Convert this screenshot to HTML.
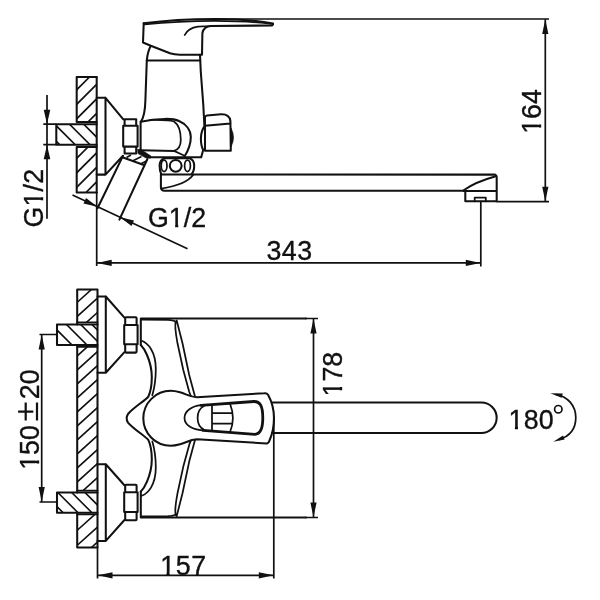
<!DOCTYPE html>
<html>
<head>
<meta charset="utf-8">
<title>Faucet dimensional drawing</title>
<style>
  html, body { margin: 0; padding: 0; background: #ffffff; }
  body { width: 600px; height: 600px; overflow: hidden; }
  svg { display: block; filter: grayscale(1); }
  svg text { font-family: "Liberation Sans", sans-serif; fill: #111; stroke: #111; stroke-width: 0.35; }
  .o { fill: none; stroke: #111; stroke-width: 2.05; stroke-linecap: round; stroke-linejoin: round; }
  .m { fill: none; stroke: #111; stroke-width: 1.75; stroke-linecap: round; stroke-linejoin: round; }
  .t { fill: none; stroke: #111; stroke-width: 1.7; stroke-linecap: butt; }
  .h { fill: none; stroke: #111; stroke-width: 1.6; stroke-linecap: butt; }
  .k { fill: #111; stroke: #111; stroke-width: 0.6; stroke-linejoin: round; }
  .a { fill: #111; stroke: none; }
</style>
</head>
<body>
<svg width="600" height="600" viewBox="0 0 600 600">
<rect x="0" y="0" width="600" height="600" fill="#ffffff"/>
<defs>
  <clipPath id="one"><path d="M-2,-30 H20 V-3.3 H9.4 V1.5 H6.3 V-3.3 H-2 Z"/></clipPath>
  <clipPath id="cw1"><rect x="76.7" y="77" width="20" height="45"/></clipPath>
  <clipPath id="cw2"><rect x="76.7" y="147" width="20" height="45.5"/></clipPath>
  <clipPath id="cp1"><rect x="56.3" y="124.2" width="40.4" height="20.5"/></clipPath>
</defs>

<!-- ================= SIDE ELEVATION (top drawing) ================= -->
<g id="side">
  <!-- wall hatch -->
  <g class="h" clip-path="url(#cw1)">
    <path d="M70,96.5 L100,66.5 M70,111 L100,81 M70,125.5 L100,95.5 M70,140 L100,110"/>
  </g>
  <g class="h" clip-path="url(#cw2)">
    <path d="M70,165 L100,135 M70,179.5 L100,149.5 M70,194 L100,164 M70,208.5 L100,178.5"/>
  </g>
  <g class="h" clip-path="url(#cp1)">
    <path d="M50,135 L65,150 M50,119.5 L80,149.5 M60,114.7 L95,149.7 M75,115.5 L105,145.5"/>
  </g>
  <!-- wall outline -->
  <path class="o" d="M96.7,77 L76.7,77 L76.7,122 L96.7,122 M76.7,147 L76.7,192.5 L96.7,192.5 M76.7,147 L96.7,147"/>
  <path class="o" d="M96.7,77 L96.7,192.5"/>
  <!-- pipe -->
  <path class="o" d="M96.7,124.2 L56.3,124.2 L56.3,144.7 L96.7,144.7"/>
  <!-- flange + cone -->
  <path class="o" d="M96.7,97.8 L105.5,97.8 L105.5,174.6 L96.7,174.6 M105.5,97.8 L123.3,119.3 M105.5,174.6 L123,155.8"/>
  <!-- nut -->
  <path class="o" d="M124.6,119.3 L136.2,119.3 L136.2,125.8 L137.6,125.8 L137.6,146.6 L136.2,146.6 L136.2,153.4 L124.6,153.4 L124.6,146.6 L123.2,146.6 L123.2,125.8 L124.6,125.8 Z M123.2,125.8 L137.6,125.8 M123.2,146.6 L137.6,146.6"/>
  <!-- collar -->
  <path class="o" d="M140.6,122 L140.6,150.5"/>
  <!-- body -->
  <path class="o" d="M150.8,45.8 C148.5,50 147.3,55 146.8,60.5 L145.4,100 C145.2,109 144.3,117 140.8,121.8"/>
  <path class="o" d="M200,54.7 L200.8,72 L203.3,105 L204.4,126 C202,130 200.9,134 200.9,138.5 C200.9,144 201.8,147.5 203.2,150 L201.2,157.2"/>
  <path class="o" d="M146.8,60.4 L200.2,60.4"/>
  <!-- valve cylinder -->
  <path class="o" d="M140.8,121.8 C150,119.6 158,119 165,118.9 C171,118.8 176,119.5 179,121 C186,124 190.8,130 190.8,137 C190.8,145 188,151 184.5,156.5"/>
  <path class="m" d="M150,120 C160,119.8 170,120 174,121.5 C178.5,124.5 180.8,132 180.8,140 C180.8,146 178,149.6 174,150.9 L184,155.5"/>
  <path class="o" d="M140.8,150.3 L174,150.9"/>
  <!-- wedge + body bottom -->
  <path class="k" d="M137.6,149.2 L141,149.6 L151,156 L150.5,158.2 L146,158 L138,153.6 Z"/>
  <path class="o" d="M149.5,157.2 L200.8,157.2"/>
  <!-- right knob -->
  <path class="o" d="M205,150.8 L205,117.5 Q205,116 207,115.6 L221,114.3 Q229.5,114 230.4,121 L230.8,150.8 Z M205,125.8 L230.6,123.4"/>
  
  <path class="k" d="M231,128 Q236,137.5 231,147 Z"/>
  <!-- bearing -->
  <path class="o" d="M164.5,158.2 L189.5,158.2 Q194.2,159.8 194.2,165.8 Q194.2,171.5 191.5,174.3 M164.5,158.2 Q159.6,159.8 159.6,165.8 Q159.6,171 161.3,174.3"/>
  <ellipse class="m" cx="164.1" cy="165.8" rx="2.9" ry="5.7"/>
  <circle class="o" cx="175.7" cy="165.8" r="5.9"/>
  <ellipse class="m" cx="187.5" cy="165.8" rx="2.9" ry="5.7"/>
  <!-- spout -->
  <path class="o" d="M160.9,174.4 L494,174.6 Q496.7,174.8 496.7,177.6 L496.7,201.3 L465.3,201.3 L465.3,191.4 M160.9,174.4 L160.9,187 Q160.9,190.7 164.5,190.7 L463.3,190.7 M463.3,190.9 L496.7,190.9"/>
  <path class="m" d="M161.3,188.6 Q186,185 193.5,174.6"/>
  <path class="o" d="M463.3,190.5 Q476,181.8 495,176.6"/>
  <path class="m" d="M474.7,201.3 L474.7,197.6 L485.8,197.6 L485.8,201.3"/>
  <!-- diagonal inlet -->
  <path class="o" d="M122.6,156.6 L97.5,208.3 M147.4,159 L119.4,219.6 M123,157.5 L144.6,165.2"/>
  <path class="h" d="M126.5,157.5 L131,155 M133,160.8 L141.5,156.5 M140.5,164 L146.5,161"/>
  <!-- handle -->
  <path class="o" d="M143.7,23.2 C165,20.4 190,18.9 215,18.9 C240,19 260,21 273,23.6"/>
  <path class="m" d="M144.5,24.4 C165,22.2 190,20.8 215,20.8 C240,20.9 258,22 272,24"/>
  <path class="o" d="M273,24.6 L272,25.5 L211,26 Q203.6,26.5 202.4,33 L202,54.7 L180,54.7 Q174,54.7 170,53.3 L150.8,45.8 L143,42.5 L143.7,23.2"/>
  <path class="m" d="M184.7,35 Q188,28 198,26.6 L211,26"/>
</g>

<!-- ================= DIMENSIONS (top drawing) ================= -->
<g id="dims-top">
  <!-- G1/2 vertical (pipe) -->
  <path class="t" d="M43.3,124.2 L56.3,124.2 M43.3,144.7 L56.3,144.7 M47,95 L47,218.7"/>
  <path class="a" d="M47,124 L43.7,109.8 L50.3,109.8 Z M47,145 L43.7,159.2 L50.3,159.2 Z"/>
  <g transform="translate(42.5,227.6) rotate(-90)" font-size="26.8"><text transform="translate(0.00,0)">G</text><text transform="translate(21.05,0)" clip-path="url(#one)">1</text><text transform="translate(36.15,0)" letter-spacing="0.2">/2</text></g>
  <!-- G1/2 diagonal (inlet) -->
  <path class="t" d="M72.5,195 L187.5,248.7"/>
  <path class="a" d="M97.5,206.7 L83.5,203.4 L86,198 Z M120,217.2 L134,220.5 L131.5,225.9 Z"/>
  <g transform="translate(148,226.8)" font-size="26.8"><text transform="translate(0.00,0)">G</text><text transform="translate(20.85,0)" clip-path="url(#one)">1</text><text transform="translate(35.75,0)">/2</text></g>
  <!-- 343 -->
  <path class="t" d="M96.7,192 L96.7,266 M480.8,201.7 L480.8,266.5 M96.7,262.9 L480.8,262.9"/>
  <path class="a" d="M96.9,262.9 L111.7,259.7 L111.7,266.1 Z M480.6,262.9 L465.8,259.7 L465.8,266.1 Z"/>
  <text font-size="26.8" x="266.4" y="259.6" letter-spacing="0.5">343</text>
  <!-- 164 -->
  <path class="t" d="M212,19 L549,19 M496.5,201.7 L549,201.7 M545.3,19 L545.3,201.7"/>
  <path class="a" d="M545.3,19.2 L542.2,34 L548.4,34 Z M545.3,201.5 L542.2,186.7 L548.4,186.7 Z"/>
  <g transform="translate(540.7,133.8) rotate(-90)" font-size="26.8"><text transform="translate(0.00,0)" clip-path="url(#one)">1</text><text transform="translate(14.90,0)">64</text></g>
</g>

<!-- ================= PLAN VIEW (bottom drawing) ================= -->
<defs>
  <clipPath id="pw1"><rect x="77" y="289.5" width="20.5" height="33"/></clipPath>
  <clipPath id="pw2"><rect x="77" y="346.5" width="20.5" height="144.3"/></clipPath>
  <clipPath id="pw3"><rect x="77" y="514.2" width="20.5" height="33.3"/></clipPath>
  <clipPath id="pp1"><rect x="57" y="324.4" width="40.5" height="20.6"/></clipPath>
  <clipPath id="pp2"><rect x="57" y="492.5" width="40.5" height="20.2"/></clipPath>
</defs>
<g id="plan">
  <!-- wall hatch -->
  <g class="h" clip-path="url(#pw1)">
    <path d="M70,308.8 L100,281.8 M70,322.9 L100,295.9 M70,337.2 L100,310.2"/>
  </g>
  <g class="h" clip-path="url(#pw2)">
    <path d="M70,362.4 L100,335.4 M70,376.4 L100,349.4 M70,390.4 L100,363.4 M70,404.4 L100,377.4 M70,418.4 L100,391.4 M70,432.4 L100,405.4 M70,446.4 L100,419.4 M70,460.4 L100,433.4 M70,474.4 L100,447.4 M70,488.4 L100,461.4 M70,502.4 L100,475.4"/>
  </g>
  <g class="h" clip-path="url(#pw3)">
    <path d="M70,536.8 L100,509.8 M70,551.8 L100,524.8 M70,566.8 L100,539.8"/>
  </g>
  <g class="h" clip-path="url(#pp1)">
    <path d="M50,323.0 L105,378.0 M50,308.0 L105,363.0 M50,293.8 L105,348.8 M50,282.5 L105,337.5"/>
  </g>
  <g class="h" clip-path="url(#pp2)">
    <path d="M50,499.6 L105,554.6 M50,484.7 L105,539.7 M50,470.8 L105,525.8 M50,457.5 L105,512.5"/>
  </g>
  <!-- wall outline -->
  <path class="o" d="M97.5,289.4 L77.2,289.4 L77.2,324.4 M77.2,345 L77.2,492.5 M77.2,512.7 L77.2,547.5 L97.5,547.5 M97.5,289.4 L97.5,547.5"/>
  <path class="m" d="M77.2,322.4 L97.5,322.4 M77.2,346.8 L97.5,346.8 M77.2,490.7 L97.5,490.7 M77.2,514.4 L97.5,514.4"/>
  <!-- pipes -->
  <path class="o" d="M97.5,324.4 L57,324.4 L57,345 L97.5,345 M97.5,492.5 L57,492.5 L57,512.7 L97.5,512.7"/>
  <!-- flanges -->
  <path class="o" d="M97.5,296.5 L105.8,296.5 L105.8,372.7 L97.5,372.7 M105.8,296.5 L124.2,317.4 M105.8,372.7 L124.2,352.4"/>
  <path class="o" d="M97.5,464.2 L105.8,464.2 L105.8,540.9 L97.5,540.9 M105.8,464.2 L124.2,485 M105.8,540.9 L124.2,520.2"/>
  <!-- nuts -->
  <path class="o" d="M126,317.2 L135.8,317.2 Q136.6,317.2 136.6,318.2 L136.6,325 L137.6,325 L137.6,344.3 L136.6,344.3 L136.6,351.6 Q136.6,352.6 135.8,352.6 L126,352.6 Q125.2,352.6 125.2,351.6 L125.2,344.3 L124.2,344.3 L124.2,325 L125.2,325 L125.2,318.2 Q125.2,317.2 126,317.2 Z M124.2,325 L137.6,325 M124.2,344.3 L137.6,344.3"/>
  <path class="o" d="M126,484.8 L135.8,484.8 Q136.6,484.8 136.6,485.8 L136.6,492.3 L137.6,492.3 L137.6,511.9 L136.6,511.9 L136.6,519.2 Q136.6,520.2 135.8,520.2 L126,520.2 Q125.2,520.2 125.2,519.2 L125.2,511.9 L124.2,511.9 L124.2,492.3 L125.2,492.3 L125.2,485.8 Q125.2,484.8 126,484.8 Z M124.2,492.3 L137.6,492.3 M124.2,511.9 L137.6,511.9"/>
  <!-- body outline -->
  <path class="o" d="M140.8,345 L140.8,318.5 L306,318.5 M140.8,491.6 L140.8,517.5 L306,517.5"/>
  <path class="m" d="M141.5,319.6 L168,319.8 Q173.5,320 175.6,321.8 M141.5,516.4 L168,516.2 Q173.5,516 175.6,514.4"/>
  <!-- body back curves -->
  <path class="o" d="M140.8,345 C143,347.2 145.2,350.8 147,355 C150,362 151.8,370 151.8,377 C151.8,385 151,391 148.3,396.7 C144,401.5 134,407 128,414 Q125.3,418.3 128,422.6 C134,429.6 144,435.1 148.3,439.9 C151,445.6 151.8,451.6 151.8,459.6 C151.8,466.6 150,474.6 147,481.6 C145.2,485.8 143,489.4 140.8,491.6"/>
  <path class="m" d="M141.7,340.8 C145,342 148.5,345 151,349 C154,354 155.8,362 155.8,369 C155.8,378 155,386 152.3,395.3 M141.7,495.8 C145,494.6 148.5,491.6 151,487.6 C154,482.6 155.8,474.6 155.8,467.6 C155.8,458.6 155,450.6 152.3,441.3"/>
  <!-- wings -->
  <path class="m" d="M175.8,321.4 C174.6,325 175,330 177.5,343.3 L183.3,370 L189.2,391.7 L190.8,396 M176.7,320.5 L182.5,343.3 L189.2,375 L195,396.6"/>
  <path class="m" d="M175.8,515.2 C174.6,511.6 175,506.6 177.5,493.3 L183.3,466.6 L189.2,444.9 L190.8,440.6 M176.7,516.1 L182.5,493.3 L189.2,461.6 L195,440"/>
  <!-- handle + lever -->
  <path class="o" d="M264.5,393.2 L197,397.3 C190,397 186,394 180,392.3 C176,391.2 173,390.8 170.8,390.8 A27.5,27.5 0 0 0 170.8,445.8 C173,445.8 176,445.4 180,444.3 C186,442.6 190,439.6 197,439.3 L266.5,443.4 Q268.5,443.4 269.3,441 C272,435 274,427 274,418.3 C274,409 271.5,401 268.2,395 Q267,393 264.5,393.2"/>
  <!-- slot -->
  <path class="m" d="M201,405.2 C192,406 184.5,411 184.5,418 C184.5,425 192,429.8 203,430.4"/>
  <path d="M201,405.4 L254,401.5 C259.5,401.3 262.8,405 262.8,418 C262.8,430 260,434 255,434.3 L203,430.3" fill="none" stroke="#111" stroke-width="2.8" stroke-linecap="round" stroke-linejoin="round"/>
  <path class="m" d="M204,406 C200,408 197.6,412 197.6,418 C197.6,424 200,428 204.5,430"/>
  <path class="m" d="M212,405.5 L212,430.2 M212,413 L232.2,413 M212,423.6 L232.2,423.6 M230.2,404.2 Q235.6,418 230.2,431.5"/>
  <!-- spout -->
  <path class="o" d="M272,402.5 L481.4,402.5 A15.25,15.25 0 0 1 481.4,433 L272.3,433"/>
</g>

<!-- ================= DIMENSIONS (bottom drawing) ================= -->
<g id="dims-bottom">
  <!-- 178 -->
  <path class="t" d="M305,318.5 L318,318.5 M305,517.5 L318,517.5 M313.5,318.5 L313.5,517.5"/>
  <path class="a" d="M313.5,318.7 L310.4,333.5 L316.6,333.5 Z M313.5,517.3 L310.4,502.5 L316.6,502.5 Z"/>
  <g transform="translate(342.2,396.5) rotate(-90)" font-size="26.8"><text transform="translate(0.00,0)" clip-path="url(#one)">1</text><text transform="translate(14.90,0)">78</text></g>
  <!-- 150±20 -->
  <path class="t" d="M39.5,334.5 L57,334.5 M39.5,502 L57,502 M41.7,334.5 L41.7,502"/>
  <path class="a" d="M41.7,334.7 L38.6,349.5 L44.8,349.5 Z M41.7,501.8 L38.6,487 L44.8,487 Z"/>
  <g transform="translate(38.6,469.8) rotate(-90)" font-size="26.8"><text transform="translate(0.00,0)" clip-path="url(#one)">1</text><text transform="translate(14.90,0)">50</text></g>
  <path d="M25.7,402.6 L25.7,420.6 M18.1,411.6 L33.3,411.6 M37,402.6 L37,420.6" fill="none" stroke="#111" stroke-width="2.2"/>
  <text font-size="26.8" transform="translate(38.6,399.2) rotate(-90)">20</text>
  <!-- 157 -->
  <path class="t" d="M97.5,547 L97.5,578.5 M273.8,418 L273.8,578.5 M97.5,575.3 L273.8,575.3"/>
  <path class="a" d="M97.7,575.3 L112.5,572.2 L112.5,578.4 Z M273.6,575.3 L258.8,572.2 L258.8,578.4 Z"/>
  <g transform="translate(160.2,575.2)" font-size="26.8"><text transform="translate(0.00,0)" clip-path="url(#one)">1</text><text transform="translate(15.50,0)" letter-spacing="0.6">57</text></g>
  <!-- 180 deg -->
  <g transform="translate(508.6,428.8)" font-size="26.8"><text transform="translate(0.00,0)" clip-path="url(#one)">1</text><text transform="translate(15.10,0)" letter-spacing="0.2">80</text></g>
  <circle cx="558.3" cy="409.2" r="3.7" fill="none" stroke="#111" stroke-width="1.7"/>
  <path class="t" d="M556,394.3 C568,396.5 575.8,406 575.8,417.5 C575.8,429 569,436.5 559,439.6"/>
  <path class="a" d="M550.3,393.2 L562.8,393.6 L561.6,397.8 Z M553.3,441.8 L563,435.6 L564.6,439.6 Z"/>
</g>

</svg>
</body>
</html>
